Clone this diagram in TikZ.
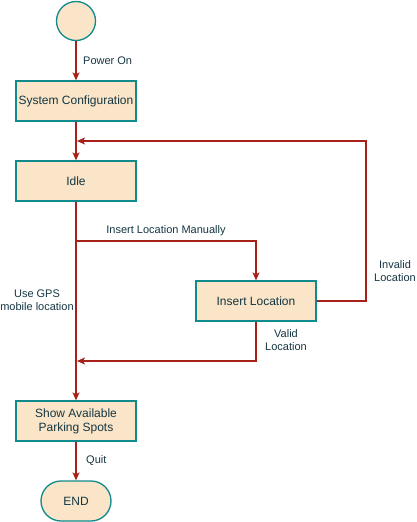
\documentclass[tikz,border=0pt]{standalone}
\usepackage{fontspec}
\setmainfont{Liberation Sans}
\usetikzlibrary{arrows.meta,shapes.misc}
\definecolor{fillc}{HTML}{FAE5C8}
\definecolor{strokec}{HTML}{0F8B8D}
\definecolor{edgec}{HTML}{A8201A}
\definecolor{textc}{HTML}{143642}
\tikzset{
  box/.style={draw=strokec, fill=fillc, line width=1.3pt, minimum width=120pt, minimum height=40pt, inner sep=0pt, font=\fontsize{12}{14}\selectfont, text=textc, align=center},
  conn/.style={draw=edgec, line width=1.1pt, -{Stealth[length=8pt,width=7pt,inset=2pt]}},
  lbl/.style={font=\fontsize{11}{13}\selectfont, text=textc, align=center, inner sep=0pt},
}
\begin{document}
\begin{tikzpicture}[x=1pt,y=-1pt]
\useasboundingbox (0,0) rectangle (416,522);
\node[circle, draw=strokec, fill=fillc, line width=1.3pt, minimum size=39pt, inner sep=0pt] (start) at (76,21) {};
\node[box] (sys) at (76,101) {System Configuration};
\node[box] (idle) at (76,181) {Idle};
\node[box] (ins) at (256,301) {Insert Location};
\node[box] (show) at (76,421) {Show Available\\Parking Spots};
\node[rounded rectangle, draw=strokec, fill=fillc, line width=1.3pt, minimum width=70pt, minimum height=40pt, inner sep=0pt, font=\fontsize{12}{14}\selectfont, text=textc] (end) at (76,501) {END};

\coordinate (b1) at (76,241);
\coordinate (m1) at (77,141);
\coordinate (m2) at (77,361);
\coordinate (r1) at (366,141);

\node[lbl, anchor=west] (lpow) at (83,61) {Power On};
\node[lbl] (lman) at (166,231) {Insert Location Manually};
\node[lbl] (lgps) at (37,300) {Use GPS\\mobile location};
\node[lbl] (linv) at (395,271) {Invalid\\Location};
\node[lbl] (lval) at (286,340) {Valid\\Location};
\node[lbl, anchor=west] (lquit) at (86,461) {Quit};

\draw[conn] (start) -- (sys);
\draw[conn] (sys) -- (idle);
\draw[conn] (idle) -- (show);
\draw[conn] (b1) -| (ins.north);
\draw[conn] (ins.east) -| (r1) -- (m1);
\draw[conn] (ins.south) |- (m2);
\draw[conn] (show) -- (end);
\end{tikzpicture}
\end{document}
